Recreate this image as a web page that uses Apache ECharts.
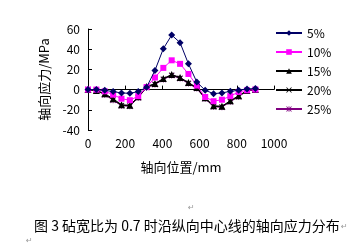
<!DOCTYPE html>
<html><head><meta charset="utf-8">
<script src="https://cdn.jsdelivr.net/npm/echarts@6/dist/echarts.min.js"></script>
<style>html,body{margin:0;padding:0;background:#fff}#c{width:357px;height:252px}</style>
</head><body><div id="c"></div>
<script>
var positions = [0,45,90,135,180,225,270,315,360,405,450,495,540,585,630,675,720,765,810,855,900];
var seriesNames = ['5%','10%','15%','20%','25%'];
var s5  = [0,0,-0.7,-2,-3.3,-3.7,-2,2.3,19,40.5,54,46.5,25.5,7.5,-0.7,-4,-3.3,-1.7,-0.7,0.7,1];
var s10 = [0,0,-1.7,-5,-9,-10.5,-6.5,2.5,12,21.5,29,25.5,15.5,4,-7.3,-11.5,-10,-6.5,-2.3,-0.7,0];
var s15 = [0,-1,-4,-9,-15,-15.5,-7,3,6,11,15,12,7,2,-8,-16,-16.5,-11,-6,-1,0];
var s20 = [0,-1,-4.5,-10,-15.5,-16,-7.5,2.5,5.5,10.5,14.5,11.5,6.5,1.5,-8.5,-16.5,-17,-11.5,-6.5,-1,0];
var s25 = [0,-1,-5,-10.5,-16,-16.5,-8,2,5,10,14,11,6,1,-9,-17,-17.5,-12,-7,-1.5,0];
var xTicks = {min:0, max:1000, interval:200};
var yTicks = {min:-40, max:60, interval:20};
var caption = '图 3 砧宽比为 0.7 时沿纵向中心线的轴向应力分布';

function pairs(v){ return positions.map(function(x,i){ return [x, v[i]]; }); }
var xMark = 'path://M0,1L1,0L5,4L9,0L10,1L6,5L10,9L9,10L5,6L1,10L0,9L4,5Z';
var star = 'path://M0,1L1,0L5,4L9,0L10,1L6,5L10,9L9,10L5,6L1,10L0,9L4,5ZM4.3,0L5.7,0L5.7,10L4.3,10Z';
var defs = [
  {data:s5,  color:'#000066', symbol:'diamond',  size:7},
  {data:s10, color:'#ff00ff', symbol:'rect',     size:6},
  {data:s15, color:'#000000', symbol:'triangle', size:7},
  {data:s20, color:'#000000', symbol:xMark,      size:5},
  {data:s25, color:'#800080', symbol:star,       size:6}
];
var font = '"Noto Sans CJK SC", sans-serif';
var chart = echarts.init(document.getElementById('c'), null, {renderer:'canvas'});
chart.setOption({
  animation:false,
  backgroundColor:'#fff',
  grid:{left:88, right:83, top:29, bottom:122, containLabel:false},
  legend:{
    orient:'vertical', left:270, top:22, itemWidth:26, itemHeight:7, itemGap:7,
    textStyle:{fontSize:12, color:'#000', fontFamily:font},
    data:seriesNames
  },
  xAxis:{
    type:'value', min:xTicks.min, max:xTicks.max, interval:xTicks.interval,
    name:'轴向位置/mm', nameLocation:'middle', nameGap:31,
    nameTextStyle:{fontSize:13, color:'#000', fontFamily:font},
    axisLine:{lineStyle:{color:'#000', width:1}},
    axisTick:{inside:true, length:4, lineStyle:{color:'#000'}},
    axisLabel:{fontSize:12, color:'#000', margin:7, fontFamily:font, formatter:function(v){return String(v);}},
    splitLine:{show:false}
  },
  yAxis:{
    type:'value', min:yTicks.min, max:yTicks.max, interval:yTicks.interval,
    name:'轴向应力/MPa', nameLocation:'middle', nameGap:37, nameRotate:90,
    nameTextStyle:{fontSize:13, color:'#000', fontFamily:font},
    axisLine:{show:true, lineStyle:{color:'#000', width:1}},
    axisTick:{show:true, inside:true, length:4, lineStyle:{color:'#000'}},
    axisLabel:{fontSize:12, color:'#000', margin:8, fontFamily:font, formatter:function(v){return String(v);}},
    splitLine:{show:false}
  },
  series: defs.map(function(d,i){
    return {
      name:seriesNames[i], type:'line', data:pairs(d.data),
      symbol:d.symbol, symbolSize:d.size, showAllSymbol:true,
      lineStyle:{color:d.color, width:1},
      itemStyle:{color:d.color},
      z: 10 - i
    };
  }),
  graphic:[
    {type:'text', left:34, top:219, style:{text:caption, fill:'#000', font:'14px '+font}},
    {type:'text', left:188, top:204, style:{text:'↵', fill:'#999', font:'8px "DejaVu Sans"'}},
    {type:'text', left:341, top:223, style:{text:'↵', fill:'#999', font:'8px "DejaVu Sans"'}},
    {type:'text', left:26, top:237, style:{text:'↵', fill:'#999', font:'8px "DejaVu Sans"'}}
  ]
});
</script></body></html>
